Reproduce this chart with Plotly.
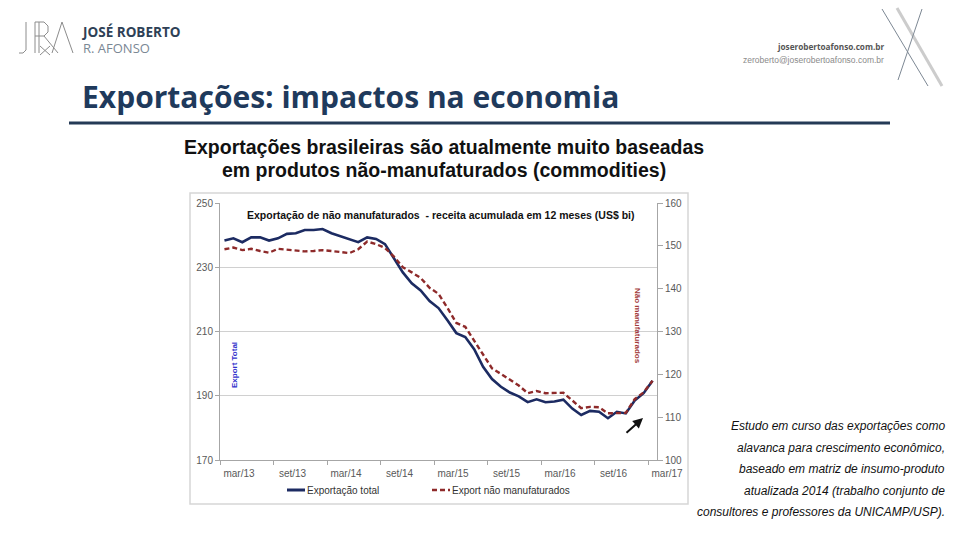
import plotly.graph_objects as go

# ---------------- data ----------------
x_tick_labels = ["mar/13", "set/13", "mar/14", "set/14", "mar/15", "set/15", "mar/16", "set/16", "mar/17"]

export_total = [238.3, 239.0, 237.8, 239.3, 239.3, 238.3, 239.0, 240.4, 240.6, 241.6,
                241.6, 241.9, 240.6, 239.7, 238.7, 237.8, 239.3, 238.8, 237.2, 232.8,
                228.4, 225.0, 222.8, 219.5, 217.3, 213.5, 209.5, 208.3, 204.5, 199.0,
                195.2, 192.8, 191.0, 189.8, 188.0, 188.9, 188.0, 188.2, 188.8, 186.0,
                184.0, 185.3, 185.0, 183.0, 185.0, 184.5, 188.5, 190.8, 194.7]

export_nao_manuf = [149.2, 149.6, 149.0, 149.3, 148.8, 148.4, 149.3, 149.1, 149.0, 148.7,
                    148.8, 149.0, 148.8, 148.6, 148.3, 149.2, 151.0, 150.4, 149.5, 147.5,
                    145.0, 143.8, 142.5, 140.2, 138.8, 135.5, 132.0, 131.1, 127.8, 124.5,
                    121.4, 120.1, 118.8, 117.4, 115.6, 116.1, 115.6, 115.7, 115.7, 113.9,
                    112.1, 112.4, 112.3, 110.9, 110.9, 111.0, 114.2, 115.8, 118.5]

side_text = ["Estudo em curso das exportações como",
             "alavanca para crescimento econômico,",
             "baseado em matriz de insumo-produto",
             "atualizada 2014 (trabalho conjunto de",
             "consultores e professores da UNICAMP/USP)."]

# ---------------- layout helpers ----------------
W, H = 960, 540
PL, PR, PT, PB = 220, 657, 203, 460


def xp(px):
    return (px - PL) / (PR - PL)


def yp(py):
    return (PB - py) / (PB - PT)


n = len(export_total)
xs = [i + 0.5 for i in range(n)]

NAVY = "#1c2b62"
RED = "#8e2a2a"
GRID = "#d0d0d0"
AX = "#a6a6a6"
TXT = "#595959"
FONT = "Liberation Sans"

fig = go.Figure()
fig.add_trace(go.Scatter(x=xs, y=export_total, mode="lines", name="Exportação total",
                         line=dict(color=NAVY, width=2.6), yaxis="y", showlegend=False))
fig.add_trace(go.Scatter(x=xs, y=export_nao_manuf, mode="lines", name="Export não manufaturados",
                         line=dict(color=RED, width=2.4, dash="5px,3px"), yaxis="y2",
                         showlegend=False))

shapes = []
annotations = []

# chart frame
shapes.append(dict(type="rect", xref="paper", yref="paper", x0=xp(190), x1=xp(688),
                   y0=yp(193), y1=yp(504), line=dict(color="#d6d6d6", width=1.5),
                   fillcolor="rgba(0,0,0,0)", layer="below"))

# slide title underline
shapes.append(dict(type="line", xref="paper", yref="paper", x0=xp(69), x1=xp(890),
                   y0=yp(123), y1=yp(123), line=dict(color="#253a56", width=3)))

# top-right X decoration
shapes.append(dict(type="line", xref="paper", yref="paper", x0=xp(897), y0=yp(8),
                   x1=xp(942), y1=yp(86), line=dict(color="#cccccc", width=3)))
shapes.append(dict(type="line", xref="paper", yref="paper", x0=xp(882), y0=yp(9),
                   x1=xp(928), y1=yp(86), line=dict(color="#7d8894", width=1)))
shapes.append(dict(type="line", xref="paper", yref="paper", x0=xp(922), y0=yp(9),
                   x1=xp(898), y1=yp(80), line=dict(color="#7d8894", width=1)))

# monogram logo (thin strokes)
logo_col = "#8c8c8c"
logo_lines = [
    (26, 22, 26, 50), (26, 50, 23, 53), (23, 53, 19, 53),           # J
    (35, 22, 35, 53), (35, 22, 44, 22), (44, 22, 48, 26), (48, 26, 48, 32),
    (48, 32, 44, 36), (44, 36, 35, 36),                              # R bowl
    (39, 22, 39, 53),                                                # second stem
    (40, 46, 50, 55), (50, 46, 40, 55),                              # small x
    (52, 53, 62, 22), (62, 22, 73, 53), (44, 36, 58, 53),            # A
]
for x0, y0, x1, y1 in logo_lines:
    shapes.append(dict(type="line", xref="paper", yref="paper", x0=xp(x0), y0=yp(y0),
                       x1=xp(x1), y1=yp(y1), line=dict(color=logo_col, width=1)))

# legend samples
shapes.append(dict(type="line", xref="paper", yref="paper", x0=xp(287), x1=xp(305),
                   y0=yp(490), y1=yp(490), line=dict(color=NAVY, width=3)))
shapes.append(dict(type="line", xref="paper", yref="paper", x0=xp(432), x1=xp(450),
                   y0=yp(490), y1=yp(490), line=dict(color=RED, width=2.5, dash="5px,3px")))


def ann(text, px, py, size, color="#000000", family=FONT, xanchor="left", bold=False,
        italic=False, angle=0):
    if bold:
        text = "<b>" + text + "</b>"
    if italic:
        text = "<i>" + text + "</i>"
    annotations.append(dict(text=text, x=xp(px), y=yp(py), xref="paper", yref="paper",
                            xanchor=xanchor, yanchor="middle", showarrow=False,
                            textangle=angle, align=xanchor if xanchor != "center" else "center",
                            font=dict(size=size, color=color, family=family)))


# header
ann("<b><span style='font-size:13.5px'>JOSÉ ROBERTO</span></b><br>"
    "<span style='color:#7a8794;font-size:13px'>R. AFONSO</span>", 80, 40, 12.5,
    "#2e4156", "Open Sans")
ann("joserobertoafonso.com.br", 886, 47, 8.2, "#555555", "Open Sans", xanchor="right", bold=True)
ann("zeroberto@joserobertoafonso.com.br", 886, 60, 8.5, "#8a8a8a", FONT, xanchor="right")
ann("Exportações: impactos na economia", 80, 97, 30, "#1f3a5c", "Open Sans", bold=True)

# chart title
ann("Exportações brasileiras são atualmente muito baseadas", 444, 147, 19.5, "#111111",
    xanchor="center", bold=True)
ann("em produtos não-manufaturados (commodities)", 444, 170, 19.5, "#111111",
    xanchor="center", bold=True)

# inner chart title
ann("Exportação de não manufaturados  - receita acumulada em 12 meses (US$ bi)", 440, 215,
    10.5, "#111111", xanchor="center", bold=True)

# axis titles
ann("Export Total", 234, 365, 8, "#3333cc", xanchor="center", bold=True, angle=-90)
ann("Não manufaturados", 638, 326, 8, "#a23a3a", xanchor="center", bold=True, angle=90)

# legend texts
ann("Exportação total", 305, 490, 10, "#333333")
ann("Export não manufaturados", 450, 490, 10, "#333333")

# side text
for i, line in enumerate(side_text):
    ann(line, 947, 426 + i * 21.5, 12, "#111111", xanchor="right", italic=True)

# arrow
annotations.append(dict(x=xp(643), y=yp(418), xref="paper", yref="paper", text="",
                        showarrow=True, ax=-18, ay=16, arrowhead=2, arrowsize=1,
                        arrowwidth=2, arrowcolor="#111111"))

fig.update_layout(
    width=W, height=H,
    margin=dict(l=PL, r=W - PR, t=PT, b=H - PB, pad=0),
    paper_bgcolor="white", plot_bgcolor="white",
    showlegend=False,
    shapes=shapes,
    annotations=annotations,
    xaxis=dict(range=[0, n], tickmode="array", tickvals=[6 * k for k in range(len(x_tick_labels))],
               ticktext=x_tick_labels, ticklabelshift=19, ticks="outside", ticklen=4,
               tickcolor=AX, showline=True, linecolor=AX, linewidth=1, showgrid=False,
               zeroline=False, tickfont=dict(family=FONT, size=10, color=TXT)),
    yaxis=dict(range=[170, 250], dtick=20, tick0=170, ticks="outside", ticklen=4,
               tickcolor=AX, showline=True, linecolor=AX, linewidth=1, showgrid=True,
               gridcolor=GRID, gridwidth=1, zeroline=False,
               tickfont=dict(family=FONT, size=10, color=TXT)),
    yaxis2=dict(range=[100, 160], dtick=10, tick0=100, overlaying="y", side="right",
                ticks="outside", ticklen=5, tickcolor=AX, showline=True, linecolor=AX,
                linewidth=1, showgrid=False, zeroline=False,
                tickfont=dict(family=FONT, size=10, color=TXT)),
)

fig.write_html("out.html", config={"displayModeBar": False},
               post_script="document.body.style.margin='0px';")
